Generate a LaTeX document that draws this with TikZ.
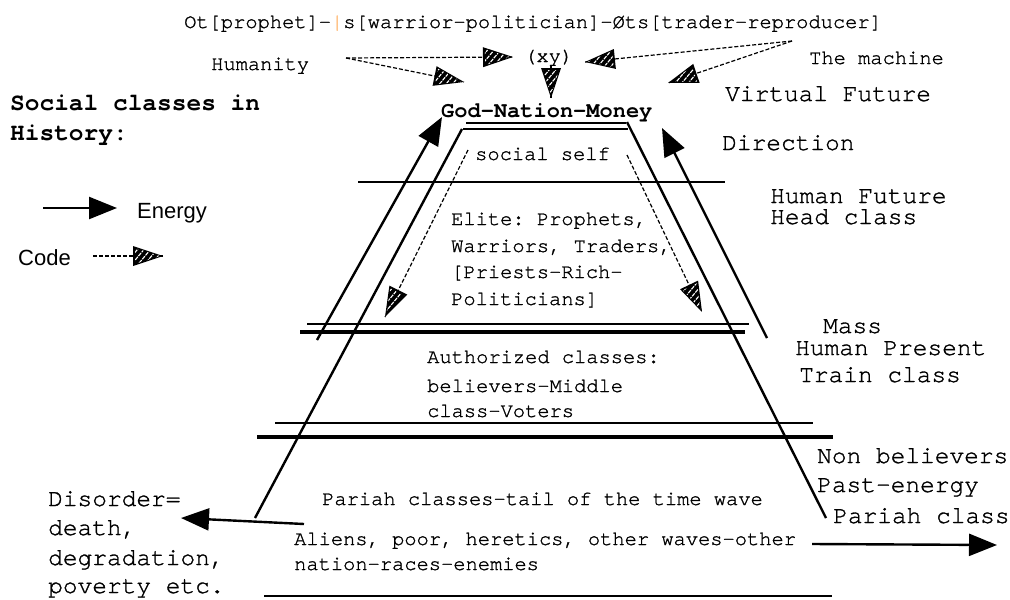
\documentclass[tikz,border=0pt]{standalone}
\usepackage{fontspec}
\setmonofont{TeX Gyre Cursor}[UprightFeatures={FakeBold=1.2}]
\newfontfamily\legendfont{Liberation Sans}
\usetikzlibrary{arrows.meta,decorations.markings,patterns.meta}

% hatched head of the code arrows
\newcommand{\codehead}{%
  \fill[black] (0pt,0pt) -- (-30pt,10pt) -- (-30pt,-10pt) -- cycle;
  \fill[pattern={Lines[angle=50,distance=5pt,line width=1.1pt]},pattern color=white]
    (-3pt,0pt) -- (-28pt,8pt) -- (-28pt,-8pt) -- cycle;}

\tikzset{
  every node/.style={inner sep=0pt, anchor=base west},
  monotext/.style={font=\ttfamily\fontsize{20.4}{24}\selectfont},
  bigtext/.style={font=\ttfamily\fontsize{24.5}{29}\selectfont},
  boldtext/.style={font=\ttfamily\bfseries\fontsize{24.5}{29}\selectfont},
  legendtext/.style={font=\legendfont\fontsize{22}{26}\selectfont},
  energy/.style={line width=2.4pt, -{Triangle[length=28pt,width=22pt]}},
  code/.style={line width=1.2pt, dash pattern=on 4pt off 2pt,
    postaction={decorate,decoration={markings,mark=at position 1 with {\codehead}}}},
  thinrule/.style={line width=1.8pt},
  thickrule/.style={line width=3.6pt},
  side/.style={line width=2.4pt}
}

\begin{document}
\begin{tikzpicture}[x=1pt,y=-1pt]
\useasboundingbox (0,0) rectangle (1010,600);

%---------------- TOP ----------------
\node[monotext] (waves) at (184,28)
  {Ot[prophet]-{\color{orange!60}|}s[warrior-politician]-Øts[trader-reproducer]};
\node[monotext] (humanity) at (211,70) {Humanity};
\node[monotext] (xy) at (524,62) {(xy)};
\node[monotext] (machine) at (809,64) {The machine};
\node[font=\ttfamily\bfseries\fontsize{22}{26}\selectfont] (gnm) at (441,117) {God-Nation-Money};

\coordinate (hum out) at (346,58);
\coordinate (hum xy) at (513,57);
\coordinate (hum gnm) at (464,82);
\coordinate (mach out) at (792,41);
\coordinate (mach xy) at (585,62);
\coordinate (mach gnm) at (668,83);
\coordinate (xy out) at (551,66);
\coordinate (xy gnm) at (551,98);

\draw[code] (hum out) -- (hum xy);
\draw[code] (hum out) -- (hum gnm);
\draw[code] (mach out) -- (mach xy);
\draw[code] (mach out) -- (mach gnm);
\draw[code] (xy out) -- (xy gnm);

%---------------- LEGEND ----------------
\node[boldtext] (title) at (10,110) {Social classes in};
\node[boldtext] (title2) at (10,140) {History:};

\coordinate (en a) at (43,208);
\coordinate (en b) at (117,208);
\draw[energy] (en a) -- (en b);
\node[legendtext] (energy) at (137,218) {Energy};

\coordinate (cd a) at (93,256);
\coordinate (cd b) at (163,256);
\draw[code] (cd a) -- (cd b);
\node[legendtext] (code) at (18,265) {Code};

%---------------- PYRAMID ----------------
\draw[side] (462,129) -- (255,518);
\draw[side] (627,122) -- (826,518);

\draw[line width=2.6pt] (466,123) -- (626,123);
\draw[line width=2.6pt] (463,129) -- (628,129);
\draw[thinrule] (358,182) -- (725,182);
\draw[thinrule] (307,324) -- (749,324);
\draw[thickrule] (300,332) -- (745,332);
\draw[thinrule] (275,423) -- (813,423);
\draw[thickrule] (257,437) -- (833,437);
\draw[thinrule] (264,596) -- (832,596);

% energy up, code down
\coordinate (up l a) at (317,340);
\coordinate (up l b) at (442,117);
\coordinate (up r a) at (767,338);
\coordinate (up r b) at (662,128);
\draw[energy] (up l a) -- (up l b);
\draw[energy] (up r a) -- (up r b);

\coordinate (dn l a) at (468,150);
\coordinate (dn l b) at (385,317);
\coordinate (dn r a) at (627,155);
\coordinate (dn r b) at (702,312);
\draw[code] (dn l a) -- (dn l b);
\draw[code] (dn r a) -- (dn r b);

%---------------- CLASSES ----------------
\node[monotext] (self) at (475,160) {social self};

\node[monotext] (elite1) at (451,225) {Elite: Prophets,};
\node[monotext] (elite2) at (451,252) {Warriors, Traders,};
\node[monotext] (elite3) at (451,278) {[Priests-Rich-};
\node[monotext] (elite4) at (451,305) {Politicians]};

\node[monotext] (auth1) at (427,363) {Authorized classes:};
\node[monotext] (auth2) at (427,392) {believers-Middle};
\node[monotext] (auth3) at (427,417) {class-Voters};

\node[monotext] (pariahs) at (322,505) {Pariah classes-tail of the time wave};
\node[monotext] (aliens1) at (294,545) {Aliens, poor, heretics, other waves-other};
\node[monotext] (aliens2) at (294,570) {nation-races-enemies};

%---------------- RIGHT SIDE ----------------
\node[bigtext] (virtual) at (725,101) {Virtual Future};
\node[bigtext] (direction) at (722,150) {Direction};
\node[bigtext] (humfut) at (770,203) {Human Future};
\node[bigtext] (headcl) at (770,224) {Head class};
\node[bigtext] (mass) at (823,333) {Mass};
\node[bigtext] (humpres) at (795,355) {Human Present};
\node[bigtext] (train) at (799,382) {Train class};
\node[bigtext] (nonbel) at (817,463) {Non believers};
\node[bigtext] (past) at (817,492) {Past-energy};
\node[bigtext] (pariah) at (833,523) {Pariah class};

%---------------- DISORDER ----------------
\node[bigtext] (dis1) at (48,506) {Disorder=};
\node[bigtext] (dis2) at (48,535) {death,};
\node[bigtext] (dis3) at (48,565) {degradation,};
\node[bigtext] (dis4) at (48,593) {poverty etc.};

\coordinate (out l a) at (304,524);
\coordinate (out l b) at (181,518);
\coordinate (out r a) at (812,544);
\coordinate (out r b) at (997,545);
\draw[energy] (out l a) -- (out l b);
\draw[energy] (out r a) -- (out r b);

\end{tikzpicture}
\end{document}
